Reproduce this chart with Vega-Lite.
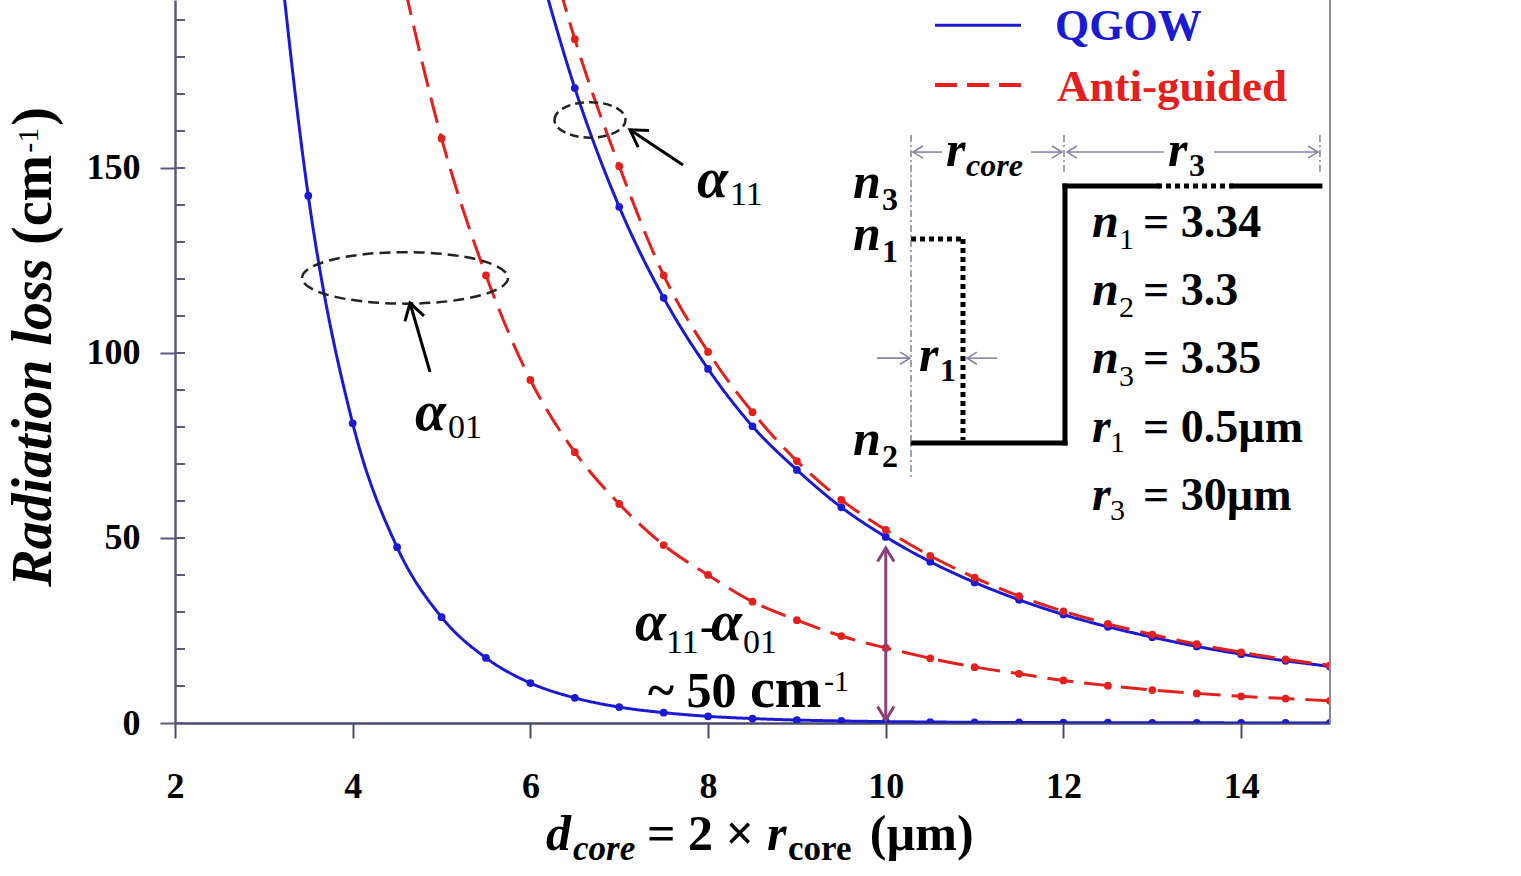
{
"$schema":"https://vega.github.io/schema/vega-lite/v6.json",
"width":1155,"height":723,"autosize":"none",
"padding":{"left":175,"top":0,"right":191,"bottom":153},
"background":"white",
"config":{"view":{"stroke":null},"text":{"font":"Liberation Serif","align":"left","baseline":"alphabetic","fontWeight":"bold","color":"black"}},
"datasets":{"curves":[
{"d":3,"loss":250,"waveguide":"QGOW","mode":"a01"},{"d":3.5,"loss":142.5,"waveguide":"QGOW","mode":"a01"},{"d":4,"loss":81,"waveguide":"QGOW","mode":"a01"},{"d":4.5,"loss":47.5,"waveguide":"QGOW","mode":"a01"},{"d":5,"loss":28.6,"waveguide":"QGOW","mode":"a01"},{"d":5.5,"loss":17.6,"waveguide":"QGOW","mode":"a01"},{"d":6,"loss":10.8,"waveguide":"QGOW","mode":"a01"},{"d":6.5,"loss":6.8,"waveguide":"QGOW","mode":"a01"},{"d":7,"loss":4.3,"waveguide":"QGOW","mode":"a01"},{"d":7.5,"loss":2.8,"waveguide":"QGOW","mode":"a01"},{"d":8,"loss":1.8,"waveguide":"QGOW","mode":"a01"},{"d":8.5,"loss":1.2,"waveguide":"QGOW","mode":"a01"},{"d":9,"loss":0.8,"waveguide":"QGOW","mode":"a01"},{"d":9.5,"loss":0.55,"waveguide":"QGOW","mode":"a01"},{"d":10,"loss":0.38,"waveguide":"QGOW","mode":"a01"},{"d":10.5,"loss":0.27,"waveguide":"QGOW","mode":"a01"},{"d":11,"loss":0.19,"waveguide":"QGOW","mode":"a01"},{"d":11.5,"loss":0.14,"waveguide":"QGOW","mode":"a01"},{"d":12,"loss":0.1,"waveguide":"QGOW","mode":"a01"},{"d":12.5,"loss":0.07,"waveguide":"QGOW","mode":"a01"},{"d":13,"loss":0.05,"waveguide":"QGOW","mode":"a01"},{"d":13.5,"loss":0.04,"waveguide":"QGOW","mode":"a01"},{"d":14,"loss":0.03,"waveguide":"QGOW","mode":"a01"},{"d":14.5,"loss":0.02,"waveguide":"QGOW","mode":"a01"},{"d":15,"loss":0.015,"waveguide":"QGOW","mode":"a01"},
{"d":4.5,"loss":208,"waveguide":"Anti-guided","mode":"a01"},{"d":5,"loss":158,"waveguide":"Anti-guided","mode":"a01"},{"d":5.5,"loss":121,"waveguide":"Anti-guided","mode":"a01"},{"d":6,"loss":92.7,"waveguide":"Anti-guided","mode":"a01"},{"d":6.5,"loss":73.2,"waveguide":"Anti-guided","mode":"a01"},{"d":7,"loss":59.2,"waveguide":"Anti-guided","mode":"a01"},{"d":7.5,"loss":48.1,"waveguide":"Anti-guided","mode":"a01"},{"d":8,"loss":40,"waveguide":"Anti-guided","mode":"a01"},{"d":8.5,"loss":32.8,"waveguide":"Anti-guided","mode":"a01"},{"d":9,"loss":27.8,"waveguide":"Anti-guided","mode":"a01"},{"d":9.5,"loss":23.5,"waveguide":"Anti-guided","mode":"a01"},{"d":10,"loss":20.3,"waveguide":"Anti-guided","mode":"a01"},{"d":10.5,"loss":17.5,"waveguide":"Anti-guided","mode":"a01"},{"d":11,"loss":15.1,"waveguide":"Anti-guided","mode":"a01"},{"d":11.5,"loss":13.3,"waveguide":"Anti-guided","mode":"a01"},{"d":12,"loss":11.5,"waveguide":"Anti-guided","mode":"a01"},{"d":12.5,"loss":10.1,"waveguide":"Anti-guided","mode":"a01"},{"d":13,"loss":8.9,"waveguide":"Anti-guided","mode":"a01"},{"d":13.5,"loss":8.0,"waveguide":"Anti-guided","mode":"a01"},{"d":14,"loss":7.2,"waveguide":"Anti-guided","mode":"a01"},{"d":14.5,"loss":6.6,"waveguide":"Anti-guided","mode":"a01"},{"d":15,"loss":6.0,"waveguide":"Anti-guided","mode":"a01"},
{"d":6,"loss":213,"waveguide":"QGOW","mode":"a11"},{"d":6.5,"loss":171.6,"waveguide":"QGOW","mode":"a11"},{"d":7,"loss":139.5,"waveguide":"QGOW","mode":"a11"},{"d":7.5,"loss":114.9,"waveguide":"QGOW","mode":"a11"},{"d":8,"loss":95.7,"waveguide":"QGOW","mode":"a11"},{"d":8.5,"loss":80.2,"waveguide":"QGOW","mode":"a11"},{"d":9,"loss":68.4,"waveguide":"QGOW","mode":"a11"},{"d":9.5,"loss":58.3,"waveguide":"QGOW","mode":"a11"},{"d":10,"loss":50.3,"waveguide":"QGOW","mode":"a11"},{"d":10.5,"loss":43.6,"waveguide":"QGOW","mode":"a11"},{"d":11,"loss":38.0,"waveguide":"QGOW","mode":"a11"},{"d":11.5,"loss":33.3,"waveguide":"QGOW","mode":"a11"},{"d":12,"loss":29.3,"waveguide":"QGOW","mode":"a11"},{"d":12.5,"loss":26.0,"waveguide":"QGOW","mode":"a11"},{"d":13,"loss":23.2,"waveguide":"QGOW","mode":"a11"},{"d":13.5,"loss":20.7,"waveguide":"QGOW","mode":"a11"},{"d":14,"loss":18.6,"waveguide":"QGOW","mode":"a11"},{"d":14.5,"loss":16.8,"waveguide":"QGOW","mode":"a11"},{"d":15,"loss":15.3,"waveguide":"QGOW","mode":"a11"},
{"d":6,"loss":228,"waveguide":"Anti-guided","mode":"a11"},{"d":6.5,"loss":184.8,"waveguide":"Anti-guided","mode":"a11"},{"d":7,"loss":150.5,"waveguide":"Anti-guided","mode":"a11"},{"d":7.5,"loss":121,"waveguide":"Anti-guided","mode":"a11"},{"d":8,"loss":100.3,"waveguide":"Anti-guided","mode":"a11"},{"d":8.5,"loss":84,"waveguide":"Anti-guided","mode":"a11"},{"d":9,"loss":70.8,"waveguide":"Anti-guided","mode":"a11"},{"d":9.5,"loss":60.3,"waveguide":"Anti-guided","mode":"a11"},{"d":10,"loss":52.2,"waveguide":"Anti-guided","mode":"a11"},{"d":10.5,"loss":45.2,"waveguide":"Anti-guided","mode":"a11"},{"d":11,"loss":39.3,"waveguide":"Anti-guided","mode":"a11"},{"d":11.5,"loss":34.3,"waveguide":"Anti-guided","mode":"a11"},{"d":12,"loss":30.2,"waveguide":"Anti-guided","mode":"a11"},{"d":12.5,"loss":26.8,"waveguide":"Anti-guided","mode":"a11"},{"d":13,"loss":23.9,"waveguide":"Anti-guided","mode":"a11"},{"d":13.5,"loss":21.3,"waveguide":"Anti-guided","mode":"a11"},{"d":14,"loss":19.1,"waveguide":"Anti-guided","mode":"a11"},{"d":14.5,"loss":17.2,"waveguide":"Anti-guided","mode":"a11"},{"d":15,"loss":15.6,"waveguide":"Anti-guided","mode":"a11"}
]},
"layer":[
{"data":{"name":"curves"},"mark":{"type":"line","clip":true,"interpolate":"monotone","strokeWidth":3},
 "encoding":{
  "x":{"field":"d","type":"quantitative","scale":{"domain":[2,15],"nice":false,"zero":false},
   "axis":{"title":null,"values":[2,4,6,8,10,12,14],"format":"d","grid":false,"tickSize":15,"tickWidth":2,"tickColor":"#4a4a6a","domainColor":"#4a4a6a","domainWidth":2.5,"labelFont":"Liberation Serif","labelFontSize":36,"labelFontWeight":"bold","labelColor":"black","labelPadding":31,"labelFlush":false,"labelOverlap":false}},
  "y":{"field":"loss","type":"quantitative","scale":{"domain":[0,195.4],"nice":false},
   "axis":{"title":null,"values":[0,50,100,150],"format":"d","grid":false,"tickSize":15,
    "tickWidth":2,"tickColor":"#5a5a80","domainColor":"#5a5a80","domainWidth":2.5,"labelOverlap":false,
    "labelFont":"Liberation Serif","labelFontSize":36,"labelFontWeight":"bold","labelColor":"black","labelPadding":20}},
  "color":{"field":"waveguide","type":"nominal","scale":{"domain":["QGOW","Anti-guided"],"range":["#1a1ad2","#e3201c"]},"legend":null},
  "strokeDash":{"field":"waveguide","type":"nominal","scale":{"domain":["QGOW","Anti-guided"],"range":[[1,0],[26,11]]},"legend":null},
  "detail":{"field":"mode"}}},
{"data":{"name":"curves"},"mark":{"type":"point","filled":true,"size":60,"opacity":1,"clip":true},
 "encoding":{"x":{"field":"d","type":"quantitative"},"y":{"field":"loss","type":"quantitative"},
  "color":{"field":"waveguide","type":"nominal","legend":null}}},
{"data":{"values":[{"v":0},{"v":10},{"v":20},{"v":30},{"v":40},{"v":50},{"v":60},{"v":70},{"v":80},{"v":90},{"v":100},{"v":110},{"v":120},{"v":130},{"v":140},{"v":150},{"v":160},{"v":170},{"v":180},{"v":190}]},
 "mark":{"type":"tick","orient":"horizontal","size":10,"thickness":2,"color":"#5a5a80","xOffset":5,"opacity":1},
 "encoding":{"x":{"datum":2},"y":{"field":"v","type":"quantitative"}}},
{"data":{"values":[{}]},"mark":{"type":"rule","color":"#8a8a9a","strokeWidth":2},"encoding":{"x":{"datum":15}}},

{"data":{"values":[{}]},"mark":{"type":"point","shape":"M -1 0 A 1 0.25 0 1 1 1 0 A 1 0.25 0 1 1 -1 0","filled":false,"stroke":"#222","strokeWidth":2.5,"strokeDash":[11,6],"size":42436,"opacity":1},"encoding":{"x":{"datum":4.589},"y":{"datum":120.3}}},
{"data":{"values":[{}]},"mark":{"type":"point","shape":"M -1 0 A 1 0.5 0 1 1 1 0 A 1 0.5 0 1 1 -1 0","filled":false,"stroke":"#222","strokeWidth":2.5,"strokeDash":[9,5],"size":5041,"opacity":1},"encoding":{"x":{"datum":6.671},"y":{"datum":163.0}}},

{"data":{"values":[{}]},"mark":{"type":"rule","color":"black","strokeWidth":3},"encoding":{"x":{"datum":4.870},"y":{"datum":94.9},"x2":{"datum":4.645},"y2":{"datum":113.5}}},
{"data":{"values":[{}]},"mark":{"type":"point","shape":"M -0.55 0.9 L 0 0 L 0.55 0.9","filled":false,"stroke":"black","strokeWidth":3,"size":1300,"angle":344,"opacity":1},"encoding":{"x":{"datum":4.645},"y":{"datum":113.5}}},
{"data":{"values":[{}]},"mark":{"type":"rule","color":"black","strokeWidth":3},"encoding":{"x":{"datum":7.718},"y":{"datum":150.8},"x2":{"datum":7.121},"y2":{"datum":160.3}}},
{"data":{"values":[{}]},"mark":{"type":"point","shape":"M -0.55 0.9 L 0 0 L 0.55 0.9","filled":false,"stroke":"black","strokeWidth":3,"size":1300,"angle":303,"opacity":1},"encoding":{"x":{"datum":7.121},"y":{"datum":160.3}}},

{"data":{"values":[{}]},"mark":{"type":"rule","color":"#8c3f78","strokeWidth":3},"encoding":{"x":{"datum":10},"y":{"datum":47.3},"y2":{"datum":0.8}}},
{"data":{"values":[{}]},"mark":{"type":"point","shape":"M -0.55 0.9 L 0 0 L 0.55 0.9","filled":false,"stroke":"#8c3f78","strokeWidth":3,"size":900,"angle":0,"opacity":1},"encoding":{"x":{"datum":10},"y":{"datum":47.3}}},
{"data":{"values":[{}]},"mark":{"type":"point","shape":"M -0.55 0.9 L 0 0 L 0.55 0.9","filled":false,"stroke":"#8c3f78","strokeWidth":3,"size":900,"angle":180,"opacity":1},"encoding":{"x":{"datum":10},"y":{"datum":0.8}}},

{"data":{"values":[{"a":10.306,"a2":12.017,"b":75.7,"b2":75.7},{"a":12.017,"a2":12.017,"b":75.7,"b2":145.1},{"a":12.017,"a2":13.053,"b":145.1,"b2":145.1},{"a":13.908,"a2":14.887,"b":145.1,"b2":145.1}]},
 "mark":{"type":"rule","color":"black","strokeWidth":5,"strokeCap":"square"},"encoding":{"x":{"field":"a","type":"quantitative"},"x2":{"field":"a2"},"y":{"field":"b","type":"quantitative"},"y2":{"field":"b2"}}},
{"data":{"values":[{"a":13.053,"a2":13.908,"b":145.1,"b2":145.1},{"a":10.284,"a2":10.869,"b":130.8,"b2":130.8},{"a":10.869,"a2":10.869,"b":130.8,"b2":76.5}]},
 "mark":{"type":"rule","color":"black","strokeWidth":5,"strokeDash":[5,4]},"encoding":{"x":{"field":"a","type":"quantitative"},"x2":{"field":"a2"},"y":{"field":"b","type":"quantitative"},"y2":{"field":"b2"}}},
{"data":{"values":[{"a":10.284,"a2":10.284,"b":158.9,"b2":66.5},{"a":12.006,"a2":12.006,"b":158.9,"b2":149.0},{"a":14.887,"a2":14.887,"b":158.9,"b2":149.0}]},
 "mark":{"type":"rule","color":"#707080","strokeWidth":1.3,"strokeDash":[7,3,2,3]},"encoding":{"x":{"field":"a","type":"quantitative"},"x2":{"field":"a2"},"y":{"field":"b","type":"quantitative"},"y2":{"field":"b2"}}},
{"data":{"values":[{"a":10.306,"a2":10.633,"b":154.3},{"a":11.635,"a2":11.983,"b":154.3},{"a":12.040,"a2":13.132,"b":154.3},{"a":13.694,"a2":14.865,"b":154.3},{"a":9.901,"a2":10.273,"b":98.6},{"a":10.914,"a2":11.252,"b":98.6}]},
 "mark":{"type":"rule","color":"#8484a8","strokeWidth":1.6},"encoding":{"x":{"field":"a","type":"quantitative"},"x2":{"field":"a2"},"y":{"field":"b","type":"quantitative"}}},
{"data":{"values":[{"a":10.306,"b":154.3},{"a":12.040,"b":154.3},{"a":10.914,"b":98.6}]},
 "mark":{"type":"point","shape":"M -0.55 0.9 L 0 0 L 0.55 0.9","filled":false,"stroke":"#8484a8","strokeWidth":1.6,"size":490,"angle":270,"opacity":1},"encoding":{"x":{"field":"a","type":"quantitative"},"y":{"field":"b","type":"quantitative"}}},
{"data":{"values":[{"a":11.983,"b":154.3},{"a":14.865,"b":154.3},{"a":10.273,"b":98.6}]},
 "mark":{"type":"point","shape":"M -0.55 0.9 L 0 0 L 0.55 0.9","filled":false,"stroke":"#8484a8","strokeWidth":1.6,"size":490,"angle":90,"opacity":1},"encoding":{"x":{"field":"a","type":"quantitative"},"y":{"field":"b","type":"quantitative"}}},

{"data":{"values":[{}]},"mark":{"type":"rule","color":"#1a1ad2","strokeWidth":3},"encoding":{"x":{"datum":10.554},"x2":{"datum":11.522},"y":{"datum":188.6}}},
{"data":{"values":[{}]},"mark":{"type":"rule","color":"#e3201c","strokeWidth":4,"strokeDash":[22,10]},"encoding":{"x":{"datum":10.554},"x2":{"datum":11.522},"y":{"datum":172.4}}},
{"data":{"values":[{}]},"mark":{"type":"text","text":"QGOW","fontSize":44,"color":"#1a1ad2"},"encoding":{"x":{"datum":11.905},"y":{"datum":184.6}}},
{"data":{"values":[{}]},"mark":{"type":"text","text":"Anti-guided","fontSize":45,"color":"#e3201c"},"encoding":{"x":{"datum":11.927},"y":{"datum":168.1}}},

{"data":{"values":[{}]},"mark":{"type":"text","text":"α","fontSize":56,"fontStyle":"italic"},"encoding":{"x":{"datum":7.875},"y":{"datum":142.2}}},
{"data":{"values":[{}]},"mark":{"type":"text","text":"11","fontSize":34,"fontWeight":"normal"},"encoding":{"x":{"datum":8.246},"y":{"datum":140.0}}},
{"data":{"values":[{}]},"mark":{"type":"text","text":"α","fontSize":56,"fontStyle":"italic"},"encoding":{"x":{"datum":4.701},"y":{"datum":79.2}}},
{"data":{"values":[{}]},"mark":{"type":"text","text":"01","fontSize":34,"fontWeight":"normal"},"encoding":{"x":{"datum":5.073},"y":{"datum":77.0}}},
{"data":{"values":[{}]},"mark":{"type":"text","text":"α","fontSize":56,"fontStyle":"italic"},"encoding":{"x":{"datum":7.177},"y":{"datum":22.4}}},
{"data":{"values":[{}]},"mark":{"type":"text","text":"11","fontSize":34,"fontWeight":"normal"},"encoding":{"x":{"datum":7.526},"y":{"datum":18.9}}},
{"data":{"values":[{}]},"mark":{"type":"text","text":"-","fontSize":42},"encoding":{"x":{"datum":7.909},"y":{"datum":22.4}}},
{"data":{"values":[{}]},"mark":{"type":"text","text":"α","fontSize":56,"fontStyle":"italic"},"encoding":{"x":{"datum":8.033},"y":{"datum":22.4}}},
{"data":{"values":[{}]},"mark":{"type":"text","text":"01","fontSize":34,"fontWeight":"normal"},"encoding":{"x":{"datum":8.393},"y":{"datum":18.9}}},
{"data":{"values":[{}]},"mark":{"type":"text","text":"~ 50","fontSize":50},"encoding":{"x":{"datum":7.324},"y":{"datum":4.3}}},
{"data":{"values":[{}]},"mark":{"type":"text","text":"cm","fontSize":56},"encoding":{"x":{"datum":8.472},"y":{"datum":4.3}}},
{"data":{"values":[{}]},"mark":{"type":"text","text":"-1","fontSize":30,"fontWeight":"normal"},"encoding":{"x":{"datum":9.305},"y":{"datum":8.6}}},

{"data":{"values":[{}]},"mark":{"type":"text","text":"d","fontSize":50,"fontStyle":"italic"},"encoding":{"x":{"datum":6.176},"y":{"datum":-34.3}}},
{"data":{"values":[{}]},"mark":{"type":"text","text":"core","fontSize":35,"fontStyle":"italic"},"encoding":{"x":{"datum":6.480},"y":{"datum":-37.0}}},
{"data":{"values":[{}]},"mark":{"type":"text","text":"= 2 ×","fontSize":50},"encoding":{"x":{"datum":7.313},"y":{"datum":-34.3}}},
{"data":{"values":[{}]},"mark":{"type":"text","text":"r","fontSize":50,"fontStyle":"italic"},"encoding":{"x":{"datum":8.663},"y":{"datum":-34.3}}},
{"data":{"values":[{}]},"mark":{"type":"text","text":"core","fontSize":35},"encoding":{"x":{"datum":8.900},"y":{"datum":-37.0}}},
{"data":{"values":[{}]},"mark":{"type":"text","text":"(µm)","fontSize":50},"encoding":{"x":{"datum":9.820},"y":{"datum":-34.3}}},

{"data":{"values":[{}]},"mark":{"type":"text","text":"Radiation loss","fontSize":56,"fontStyle":"italic","angle":270},"encoding":{"x":{"datum":0.604},"y":{"datum":36.8}}},
{"data":{"values":[{}]},"mark":{"type":"text","text":"(cm","fontSize":56,"angle":270},"encoding":{"x":{"datum":0.604},"y":{"datum":129.2}}},
{"data":{"values":[{}]},"mark":{"type":"text","text":"-1","fontSize":30,"fontWeight":"normal","angle":270},"encoding":{"x":{"datum":0.458},"y":{"datum":154.1}}},
{"data":{"values":[{}]},"mark":{"type":"text","text":")","fontSize":56,"angle":270},"encoding":{"x":{"datum":0.604},"y":{"datum":161.4}}},

{"data":{"values":[{}]},"mark":{"type":"text","text":"r","fontSize":50,"fontStyle":"italic"},"encoding":{"x":{"datum":10.678},"y":{"datum":150.5}}},
{"data":{"values":[{}]},"mark":{"type":"text","text":"core","fontSize":32,"fontStyle":"italic"},"encoding":{"x":{"datum":10.903},"y":{"datum":147.8}}},
{"data":{"values":[{}]},"mark":{"type":"text","text":"r","fontSize":50,"fontStyle":"italic"},"encoding":{"x":{"datum":13.177},"y":{"datum":150.5}}},
{"data":{"values":[{}]},"mark":{"type":"text","text":"3","fontSize":32},"encoding":{"x":{"datum":13.413},"y":{"datum":147.8}}},
{"data":{"values":[{}]},"mark":{"type":"text","text":"n","fontSize":50,"fontStyle":"italic"},"encoding":{"x":{"datum":9.631},"y":{"datum":141.9}}},
{"data":{"values":[{}]},"mark":{"type":"text","text":"3","fontSize":32},"encoding":{"x":{"datum":9.958},"y":{"datum":138.6}}},
{"data":{"values":[{}]},"mark":{"type":"text","text":"n","fontSize":50,"fontStyle":"italic"},"encoding":{"x":{"datum":9.631},"y":{"datum":127.8}}},
{"data":{"values":[{}]},"mark":{"type":"text","text":"1","fontSize":32},"encoding":{"x":{"datum":9.958},"y":{"datum":124.6}}},
{"data":{"values":[{}]},"mark":{"type":"text","text":"n","fontSize":50,"fontStyle":"italic"},"encoding":{"x":{"datum":9.631},"y":{"datum":72.4}}},
{"data":{"values":[{}]},"mark":{"type":"text","text":"2","fontSize":32},"encoding":{"x":{"datum":9.958},"y":{"datum":69.2}}},
{"data":{"values":[{}]},"mark":{"type":"text","text":"r","fontSize":50,"fontStyle":"italic"},"encoding":{"x":{"datum":10.374},"y":{"datum":95.1}}},
{"data":{"values":[{}]},"mark":{"type":"text","text":"1","fontSize":32},"encoding":{"x":{"datum":10.610},"y":{"datum":92.4}}},

{"data":{"values":[{}]},"mark":{"type":"text","text":["n","n","n","r","r"],"fontSize":48,"fontStyle":"italic","lineHeight":68.25},"encoding":{"x":{"datum":12.321},"y":{"datum":131.4}}},
{"data":{"values":[{}]},"mark":{"type":"text","text":["1","2","3"],"fontSize":30,"fontWeight":"normal","lineHeight":68.25},"encoding":{"x":{"datum":12.626},"y":{"datum":128.1}}},
{"data":{"values":[{}]},"mark":{"type":"text","text":["1","3"],"fontSize":30,"fontWeight":"normal","lineHeight":68.25},"encoding":{"x":{"datum":12.524},"y":{"datum":73.2}}},
{"data":{"values":[{}]},"mark":{"type":"text","text":["= 3.34","= 3.3","= 3.35","= 0.5µm","= 30µm"],"fontSize":46,"lineHeight":68.25},"encoding":{"x":{"datum":12.895},"y":{"datum":131.4}}}
]
}
